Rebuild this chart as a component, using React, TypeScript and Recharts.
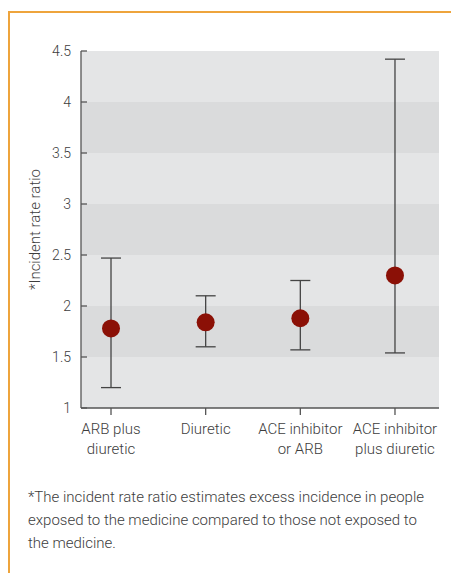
import { ScatterChart, Scatter, XAxis, YAxis, CartesianGrid, ErrorBar } from 'recharts';

// Incident rate ratios with 95% confidence intervals
const categories = ['ARB plus\ndiuretic', 'Diuretic', 'ACE inhibitor\nor ARB', 'ACE inhibitor\nplus diuretic'];
const estimates = [1.78, 1.84, 1.88, 2.3];
const lowers = [1.2, 1.6, 1.57, 1.54];
const uppers = [2.47, 2.1, 2.25, 4.42];
const yTicks = [1, 1.5, 2, 2.5, 3, 3.5, 4, 4.5];

const data = categories.map((name, i) => ({
  x: i,
  name,
  value: estimates[i],
  err: [estimates[i] - lowers[i], uppers[i] - estimates[i]],
}));

const FONT = 'Roboto, sans-serif';
const TEXT = '#3d3d3d';
const AXIS = '#555';

const YTick = ({ x, y, payload }: any) => (
  <g>
    <text x={x} y={y} dy={5} textAnchor="end" fill={TEXT} fontSize={14} fontWeight={300} fontFamily={FONT}>
      {payload.value}
    </text>
    <line x1={x + 10} x2={x + 16} y1={y} y2={y} stroke={AXIS} strokeWidth={1.3} />
  </g>
);

const XTick = ({ x, y, payload }: any) => {
  const lines = categories[payload.value].split('\n');
  return (
    <text x={x} y={y} textAnchor="middle" fill={TEXT} fontSize={15} fontWeight={300} fontFamily={FONT}>
      {lines.map((l, i) => (
        <tspan key={i} x={x} dy={i === 0 ? 17 : 20}>
          {l}
        </tspan>
      ))}
    </text>
  );
};

const Dot = ({ cx, cy }: any) => <circle cx={cx} cy={cy} r={9} fill="#8b1006" />;

export default function App() {
  return (
    <div style={{ position: 'absolute', left: 0, top: 0, width: 451, height: 573, background: '#fff', overflow: 'hidden' }}>
      <div
        style={{
          position: 'absolute',
          left: 8,
          top: 11,
          right: 0,
          bottom: 0,
          borderTop: '2px solid #eea43c',
          borderLeft: '2px solid #eea43c',
        }}
      />
      <div style={{ position: 'absolute', left: 0, top: 0 }}>
        <ScatterChart width={451} height={480} margin={{ top: 51, right: 12, left: 0, bottom: 22 }}>
          <CartesianGrid
            vertical={false}
            stroke="transparent"
            horizontalFill={['#e4e5e6', '#dadbdc']}
            fillOpacity={1}
          />
          <XAxis
            type="number"
            dataKey="x"
            domain={[-0.317, 3.465]}
            ticks={[0, 1, 2, 3]}
            allowDataOverflow
            height={50}
            tickSize={7}
            tick={<XTick />}
            axisLine={{ stroke: AXIS, strokeWidth: 1.3 }}
            tickLine={{ stroke: AXIS, strokeWidth: 1.3 }}
          />
          <YAxis
            type="number"
            dataKey="value"
            domain={[1, 4.5]}
            ticks={yTicks}
            width={81}
            tickLine={false}
            tickSize={0}
            tickMargin={10}
            tick={<YTick />}
            axisLine={{ stroke: AXIS, strokeWidth: 1.3 }}
            label={{
              value: '*Incident rate ratio',
              angle: -90,
              position: 'insideLeft',
              offset: 35,
              style: { textAnchor: 'middle', fill: TEXT, fontSize: 15, fontWeight: 300, fontFamily: FONT },
            }}
          />
          <Scatter data={data} shape={<Dot />} isAnimationActive={false}>
            <ErrorBar dataKey="err" direction="y" width={10} stroke="#444" strokeWidth={1.3} />
          </Scatter>
        </ScatterChart>
      </div>
      <div
        style={{
          position: 'absolute',
          left: 28,
          top: 486,
          width: 410,
          fontFamily: FONT,
          fontWeight: 300,
          fontSize: 15,
          lineHeight: '23px',
          color: TEXT,
        }}
      >
        *The incident rate ratio estimates excess incidence in people exposed to the medicine compared to those not exposed to
        the medicine.
      </div>
    </div>
  );
}
